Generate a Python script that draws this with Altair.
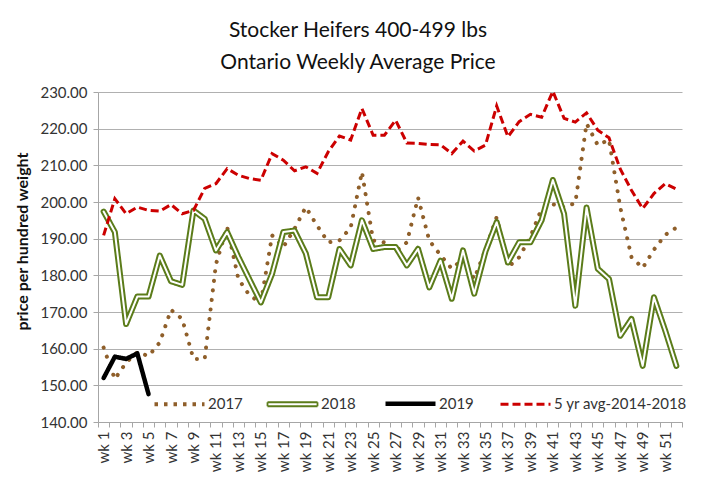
import altair as alt
import pandas as pd

weeks = [f"wk {i}" for i in range(1, 53)]

y2017 = [160.3, 151.7, 156.2, 159.0, 158.0, 161.7, 170.6, 168.1, 157.2, 157.2,
         183.0, 193.2, 179.0, 174.5, 172.5, 190.9, 187.7, 192.7, 198.6, 193.6,
         189.0, 189.5, 193.0, 208.2, 189.5, 189.0, 186.5, 189.0, 201.2, 189.5,
         185.5, 181.8, 184.5, 179.0, 187.0, 195.9, 182.2, 184.9, 190.5, 198.2,
         199.4, 198.6, 199.7, 221.4, 215.5, 217.0, 198.6, 185.0, 182.0, 187.0,
         191.0, 193.0]

y2018 = [197.4, 191.8, 166.7, 174.2, 174.2, 185.4, 178.4, 177.4, 197.7, 195.4,
         186.8, 191.8, 185.0, 178.8, 172.6, 180.4, 191.8, 192.2, 186.0, 174.0,
         174.0, 187.2, 182.7, 195.0, 187.2, 187.7, 187.7, 182.7, 187.2, 176.7,
         184.0, 173.6, 186.8, 175.0, 186.5, 194.5, 183.5, 189.0, 189.0, 195.0,
         206.0, 196.8, 171.7, 198.5, 181.8, 179.0, 163.5, 168.1, 155.3, 174.0,
         165.0, 155.3]

y2019 = [152.0, 157.8, 157.2, 158.7, 147.6]

avg5 = [190.9, 200.9, 196.8, 198.6, 197.7, 197.5, 199.3, 196.8, 197.7, 203.7,
        205.0, 209.1, 207.3, 206.4, 205.9, 213.2, 211.4, 208.5, 209.6, 207.8,
        213.7, 218.0, 216.9, 225.5, 218.2, 218.2, 222.3, 216.1, 216.0, 215.7,
        215.6, 213.2, 216.6, 213.9, 215.5, 226.2, 217.8, 221.9, 223.9, 223.1,
        230.2, 222.8, 221.8, 224.3, 219.6, 217.5, 209.0, 203.2, 198.2, 202.3,
        205.0, 203.5]

series_names = ["2017", "2018", "2019", "5 yr avg-2014-2018"]
series_colors = ["#8f5f2a", "#5b7c1a", "#000000", "#cc0000"]
legend_dash = [[3.5, 6], [1, 0], [1, 0], [8, 4]]

rows = []
for name, vals in zip(series_names, [y2017, y2018, y2019, avg5]):
    for w, v in zip(weeks, vals):
        rows.append({"week": w, "series": name, "value": v})
df = pd.DataFrame(rows)

legend = alt.Legend(
    title=None,
    orient="none",
    legendX=57,
    legendY=304,
    direction="horizontal",
    symbolType={"expr": "datum.value === '2018' ? 'M-1,-0.08H1V0.08H-1Z' : 'stroke'"},
    symbolStrokeWidth={"expr": "datum.value === '2017' ? 4 : datum.value === '2018' ? 1.8 : datum.value === '2019' ? 4.5 : 3"},
    symbolSize=2500,
    symbolOffset=17,
    labelFont="Lato",
    labelFontSize=15,
    labelColor="#333333",
    labelOffset=21,
    columnPadding=20,
    padding=0,
)

x_enc = alt.X(
    "week:O",
    sort=weeks,
    scale=alt.Scale(type="band", paddingInner=0, paddingOuter=0),
    axis=alt.Axis(
        title=None,
        labelAngle=-90,
        labelExpr="toNumber(slice(datum.label, 3)) % 2 == 1 ? datum.label : ''",
        tickBand="extent",
        tickSize=5,
        labelPadding=4,
        grid=False,
        labelFontSize=15,
    ),
)
y_enc = alt.Y(
    "value:Q",
    scale=alt.Scale(domain=[140, 230], nice=False, zero=False),
    axis=alt.Axis(
        values=list(range(140, 231, 10)),
        format=".2f",
        title="price per hundred weight",
        titleFont="Lato",
        titleFontSize=16,
        titleFontWeight="bold",
        titleColor="#111111",
        titleAngle=270,
        titleX=-71,
        titleY=149,
        titleAlign="center",
        titleBaseline="alphabetic",
        tickSize=5,
        labelPadding=6,
        grid=True,
    ),
)
stroke_enc = alt.Stroke("series:N", scale=alt.Scale(domain=series_names, range=series_colors), legend=legend)
dash_enc = alt.StrokeDash("series:N", scale=alt.Scale(domain=series_names, range=legend_dash), legend=legend)

base = alt.Chart(df).encode(x=x_enc, y=y_enc)


def series_filter(name):
    return base.transform_filter(alt.datum.series == name)


# 2017: round dots drawn with mark dash; legend dash comes from the scale
l2017 = series_filter("2017").mark_line(
    strokeWidth=4, strokeCap="round", strokeJoin="round", strokeDash=[0.1, 9.5]
).encode(stroke=stroke_enc)
l2018 = series_filter("2018").mark_line(
    strokeWidth=6, strokeCap="round", strokeJoin="round"
).encode(stroke=stroke_enc, strokeDash=dash_enc)
l2018_inner = series_filter("2018").mark_line(
    color="#ffffff", strokeWidth=2, strokeJoin="round", strokeCap="round"
)
l2019 = series_filter("2019").mark_line(
    strokeWidth=4.5, strokeCap="round", strokeJoin="round"
).encode(stroke=stroke_enc, strokeDash=dash_enc)
lavg = series_filter("5 yr avg-2014-2018").mark_line(
    strokeWidth=3, strokeCap="butt", strokeJoin="miter"
).encode(stroke=stroke_enc, strokeDash=dash_enc)

chart = alt.layer(l2017, l2018, l2018_inner, l2019, lavg).properties(
    width=584,
    height=330,
    autosize=alt.AutoSizeParams(type="none"),
    padding={"left": 90, "top": 84, "right": 14, "bottom": 70},
    title=alt.TitleParams(
        text=["Stocker Heifers 400-499 lbs", "Ontario Weekly Average Price"],
        font="Lato",
        fontSize=21,
        fontWeight="normal",
        color="#111111",
        anchor="middle",
        dx=-32,
        lineHeight=32,
        offset=12,
    ),
).configure_view(stroke=None).configure_axis(
    domainColor="#a6a6a6",
    gridColor="#b0b0b0",
    tickColor="#a6a6a6",
    labelFont="Lato",
    labelFontSize=15,
    labelColor="#333333",
)

chart.save("out.html", embed_options={"renderer": "svg", "actions": False})
